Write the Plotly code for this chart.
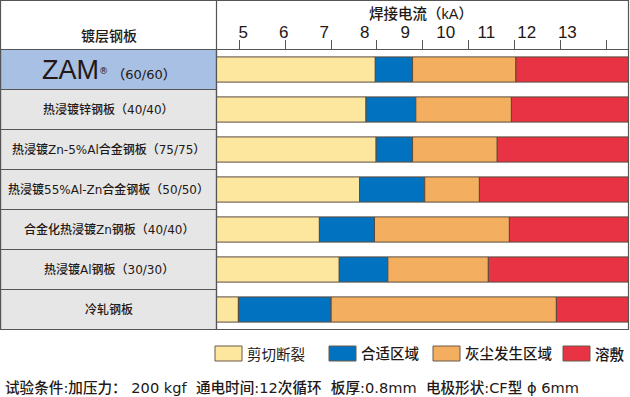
import plotly.graph_objects as go

# ---------------- data ----------------
rows = ["ZAM®（60/60）", "热浸镀锌钢板（40/40）", "热浸镀Zn-5%Al合金钢板（75/75）",
        "热浸镀55%Al-Zn合金钢板（50/50）", "合金化热浸镀Zn钢板（40/40）",
        "热浸镀Al钢板（30/30）", "冷轧钢板"]
shear_end = [8.26, 8.03, 8.28, 7.87, 6.88, 7.37, 4.88]      # 剪切断裂 upper bound (kA)
suitable_end = [9.18, 9.26, 9.18, 9.48, 8.24, 8.57, 7.17]   # 合适区域 upper bound (kA)
dust_end = [11.73, 11.62, 11.27, 10.83, 11.57, 11.05, 12.73]  # 灰尘发生区域 upper bound (kA)
series_names = ["剪切断裂", "合适区域", "灰尘发生区域", "溶敷"]
tick_vals = [5, 6, 7, 8, 9, 10, 11, 12, 13]
x_title = "焊接电流（kA）"
header_left = "镀层钢板"
footer = "试验条件:加压力： 200 kgf  通电时间:12次循环  板厚:0.8mm  电极形状:CF型 ϕ 6mm"

# ---------------- style ----------------
W, H = 630, 397
X_MIN, X_MAX = 4.34, 14.51
colors = ["#FDE69E", "#0072BF", "#F4AE5F", "#E73343"]
edge = "#5a4b3c"
border = "#555555"
txt = "#231815"
CJK = "Liberation Sans, Noto Sans CJK SC"
WIDE = "DejaVu Sans, Noto Sans CJK SC"

def px(x):
    return x / W

def py(y):
    return 1 - y / H

ROW_TOP = 49.5
ROW_H = 40.0
n = len(rows)

fig = go.Figure()

lowers = [[X_MIN] * n, shear_end, suitable_end, dust_end]
uppers = [shear_end, suitable_end, dust_end, [X_MAX] * n]
for i, name in enumerate(series_names):
    fig.add_trace(go.Bar(
        y=rows, base=lowers[i],
        x=[u - l for u, l in zip(uppers[i], lowers[i])],
        orientation="h", name=name, width=0.63,
        marker=dict(color=colors[i], line=dict(color=edge, width=1)),
        showlegend=False, hoverinfo="skip",
    ))

shapes = []
annotations = []

# left table cells
for i in range(n):
    y0 = ROW_TOP + i * ROW_H
    y1 = y0 + ROW_H
    shapes.append(dict(type="rect", xref="paper", yref="paper",
                       x0=px(0.5), x1=px(216.5), y0=py(y1), y1=py(y0),
                       fillcolor="#A8C0E4" if i == 0 else "#E6E6E6",
                       line=dict(color=border, width=1.2), layer="below"))

# outer frame and dividers
shapes.append(dict(type="rect", xref="paper", yref="paper",
                   x0=px(0.5), x1=px(628.5), y0=py(329.5), y1=py(0.5),
                   line=dict(color=border, width=1.2)))
shapes.append(dict(type="line", xref="paper", yref="paper",
                   x0=px(216.5), x1=px(216.5), y0=py(329.5), y1=py(0.5),
                   line=dict(color=border, width=1.2)))
shapes.append(dict(type="line", xref="paper", yref="paper",
                   x0=px(0.5), x1=px(628.5), y0=py(ROW_TOP), y1=py(ROW_TOP),
                   line=dict(color=border, width=1.2)))

# row labels
for i, r in enumerate(rows):
    yc = ROW_TOP + i * ROW_H + ROW_H / 2
    if i == 0:
        text = ("<span style='font-size:27px;font-family:Liberation Sans'>ZAM</span><sup>®</sup>"
                "<span style='font-size:13px'> （60/60）</span>")
        size = 13
    else:
        text = r
        size = 12
    annotations.append(dict(xref="paper", yref="paper", x=px(108.5), y=py(yc),
                            text=text, showarrow=False, xanchor="center", yanchor="middle",
                            font=dict(family=WIDE, size=size, color=txt, weight=500)))

annotations.append(dict(xref="paper", yref="paper", x=px(108.5), y=py(36),
                        text=header_left, showarrow=False, xanchor="center", yanchor="middle",
                        font=dict(family=CJK, size=14, color=txt, weight=500)))
annotations.append(dict(xref="paper", yref="paper", x=px(421), y=py(14),
                        text=x_title, showarrow=False, xanchor="center", yanchor="middle",
                        font=dict(family=CJK, size=14.5, color=txt, weight=500)))

# legend (swatches + labels)
leg_box_x = [215, 329, 433, 563]
for i, name in enumerate(series_names):
    x0 = leg_box_x[i]
    shapes.append(dict(type="rect", xref="paper", yref="paper",
                       x0=px(x0), x1=px(x0 + 27), y0=py(361), y1=py(346),
                       fillcolor=colors[i], line=dict(color="#6b5a4a", width=1)))
    annotations.append(dict(xref="paper", yref="paper", x=px(x0 + 30), y=py(354),
                            text=name, showarrow=False, xanchor="left", yanchor="middle",
                            font=dict(family=CJK, size=14.5, color=txt,
                                      weight=400 if i == 0 else 500)))

annotations.append(dict(xref="paper", yref="paper", x=px(3), y=py(387),
                        text=footer, showarrow=False, xanchor="left", yanchor="middle",
                        font=dict(family=WIDE, size=14.6, color=txt, weight=500)))

fig.update_layout(
    width=W, height=H,
    margin=dict(l=0, r=0, t=0, b=0),
    paper_bgcolor="white", plot_bgcolor="white",
    barmode="overlay",
    shapes=shapes, annotations=annotations,
    xaxis=dict(domain=[px(216.5), px(628.5)], range=[X_MIN, X_MAX], side="top",
               tickvals=tick_vals, ticks="outside", ticklen=4,
               tickcolor="rgba(0,0,0,0)", showgrid=False, zeroline=False, showline=False,
               tickfont=dict(family="Liberation Sans Narrow, Liberation Sans", size=17, color=txt),
               minor=dict(tickmode="linear", tick0=4.904, dtick=1.1325, ticks="outside",
                          ticklen=9, tickcolor=border, tickwidth=1, showgrid=False),
               fixedrange=True),
    yaxis=dict(domain=[py(329.5), py(ROW_TOP)], type="category",
               categoryorder="array", categoryarray=rows,
               range=[n - 0.5, -0.5], showticklabels=False, showgrid=False,
               zeroline=False, showline=False, ticks="", fixedrange=True),
)

fig.write_html("out.html", config={"displayModeBar": False},
               post_script="document.body.style.margin='0';document.body.style.overflow='hidden';")
